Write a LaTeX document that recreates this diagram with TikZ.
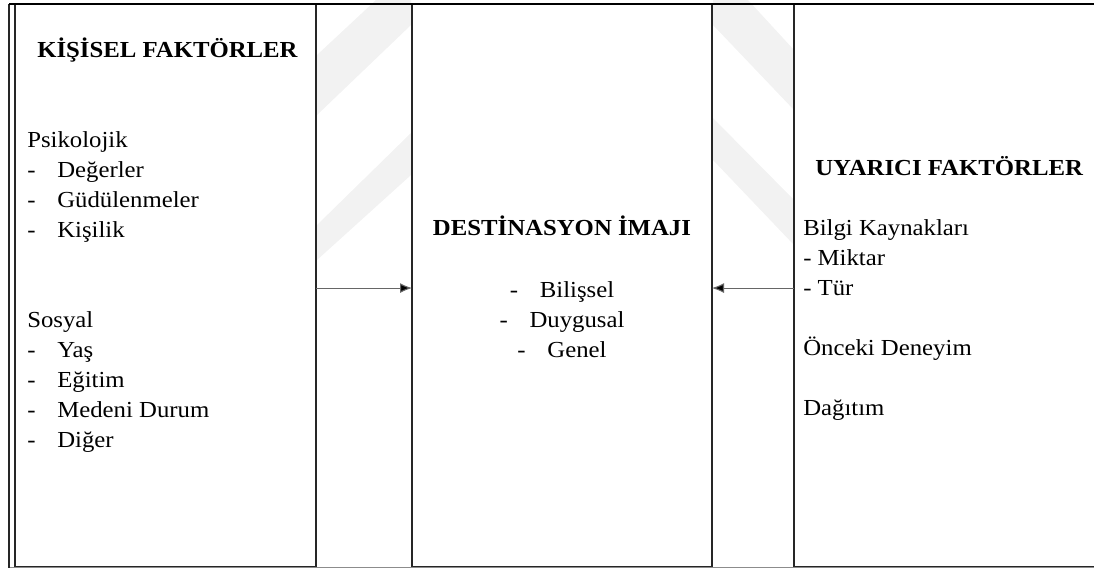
\documentclass[tikz,border=0pt]{standalone}
\usepackage{fontspec}
\setmainfont{Liberation Serif}[FakeStretch=1.08]
\usetikzlibrary{arrows.meta}
\newcommand\dashitem[1]{\makebox[22.5pt][l]{-}#1}
\begin{document}
\begin{tikzpicture}[x=0.75pt,y=-0.75pt,
  box/.style={draw=black!85, line width=1pt, fill=white, inner sep=0pt, outer sep=0pt,
    minimum height=421.5pt},
  txt/.style={anchor=base west, inner sep=0pt, font=\fontsize{17.2}{20}\selectfont},
  ctxt/.style={anchor=base, inner sep=0pt, font=\fontsize{17.2}{20}\selectfont},
  hd/.style={font=\fontsize{17.2}{20}\selectfont\bfseries},
  arr/.style={draw=black!60, line width=0.8pt, -{Latex[length=9pt,width=7.5pt,fill=black]}},
  wm/.style={fill=black!5, draw=none}]
\useasboundingbox (0,0) rectangle (1094,569);
\clip (0,0) rectangle (1094,569);
% faint watermark bands
\fill[wm] (713,0) -- (748,0) -- (794,50) -- (794,110) -- (713,25) -- cycle;
\fill[wm] (713,118) -- (794,200) -- (794,245) -- (713,160) -- cycle;
\fill[wm] (411,0) -- (376,0) -- (317,55) -- (317,115) -- (411,25) -- cycle;
\fill[wm] (411,133) -- (317,225) -- (317,260) -- (411,175) -- cycle;
% outer frame lines
\draw[black!45, line width=0.9pt] (9,567.5) -- (1094,567.5);
\draw[black!85, line width=0.9pt] (9,4) -- (9,567.5);
% boxes
\node[box, minimum width=225.75pt] (L) at (165.5,285.5) {};
\node[box, minimum width=225pt] (M) at (562,285.5) {};
\node[box, minimum width=229.5pt] (R) at (947,285.5) {};
\draw[black, line width=1.6pt] (9,4) -- (1094,4);
% arrows
\draw[arr] ([yshift=-1.9pt]L.east) -- ([yshift=-1.9pt]M.west);
\draw[arr] ([yshift=-1.9pt]R.west) -- ([yshift=-1.9pt]M.east);
% left column
\node[txt, hd] (lh) at (37,57) {KİŞİSEL FAKTÖRLER};
\node[txt] (l1) at (27,147) {Psikolojik};
\node[txt] (l2) at (27,177) {\dashitem{Değerler}};
\node[txt] (l3) at (27,207) {\dashitem{Güdülenmeler}};
\node[txt] (l4) at (27,237) {\dashitem{Kişilik}};
\node[txt] (l5) at (27,327) {Sosyal};
\node[txt] (l6) at (27,357) {\dashitem{Yaş}};
\node[txt] (l7) at (27,387) {\dashitem{Eğitim}};
\node[txt] (l8) at (27,417) {\dashitem{Medeni Durum}};
\node[txt] (l9) at (27,447) {\dashitem{Diğer}};
% middle column
\node[ctxt, hd] (mh) at (562,235) {DESTİNASYON İMAJI};
\node[ctxt] (m1) at (562,297) {\dashitem{Bilişsel}};
\node[ctxt] (m2) at (562,327) {\dashitem{Duygusal}};
\node[ctxt] (m3) at (562,357) {\dashitem{Genel}};
% right column
\node[txt, hd] (rh) at (815,175) {UYARICI FAKTÖRLER};
\node[txt] (r1) at (803,235) {Bilgi Kaynakları};
\node[txt] (r2) at (803,265) {- Miktar};
\node[txt] (r3) at (803,295) {- Tür};
\node[txt] (r4) at (803,355) {Önceki Deneyim};
\node[txt] (r5) at (803,415) {Dağıtım};
\end{tikzpicture}
\end{document}
